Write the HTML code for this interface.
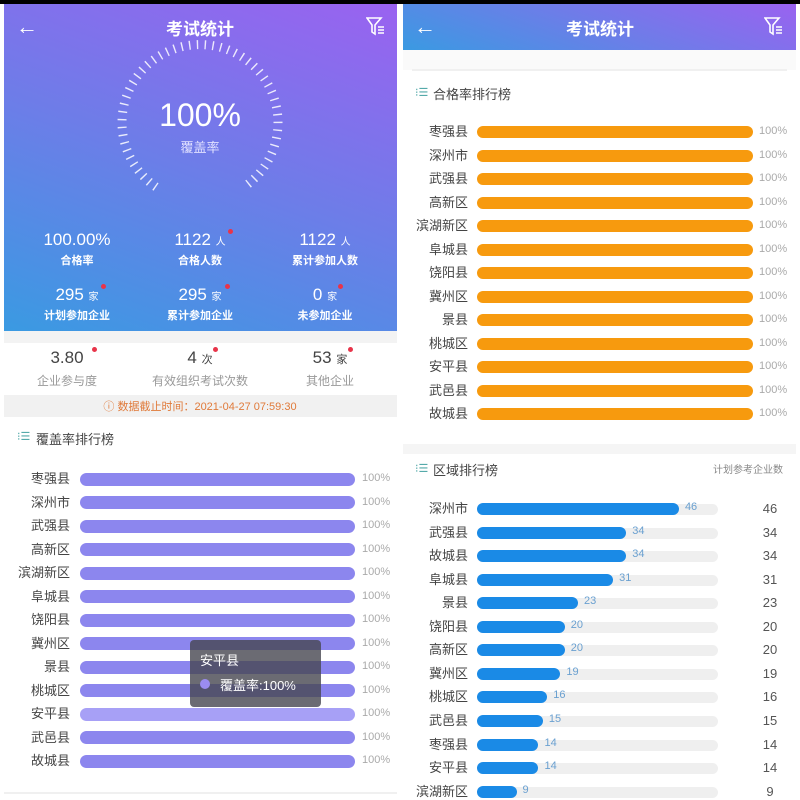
<!DOCTYPE html>
<html><head><meta charset="utf-8">
<style>
*{margin:0;padding:0;box-sizing:border-box}
body{width:800px;height:800px;position:relative;background:#fff;font-family:"Liberation Sans","Noto Sans CJK SC",sans-serif;overflow:hidden}
.a{position:absolute;white-space:nowrap}
.hdr{background:linear-gradient(20deg,#3a9ae2 0%,#6d7de8 50%,#9a62f0 100%)}
.w{color:#fff}
.lb{text-align:right;font-size:13px;color:#444;width:70px;line-height:16px}
.pc{font-size:11px;color:#aaa;line-height:14px}
.bar{position:absolute;height:13px;border-radius:7px}
.dot{position:absolute;width:5px;height:5px;border-radius:50%;background:#e8344a}
</style></head><body>
<div class="a" style="left:0;top:0;width:800px;height:4px;background:#000"></div>
<!-- LEFT -->
<div class="a hdr" style="left:4px;top:4px;width:393px;height:327px"></div>
<div class="a w" style="left:16px;top:14px;font-size:22px">←</div>
<div class="a w" style="left:0;width:400px;text-align:center;top:15px;font-size:17px;font-weight:bold">考试统计</div>
<svg class="a" style="left:366px;top:17px" width="20" height="20"><path d="M1 1 H15 L9 8 V17 L6 15 V8 Z" fill="none" stroke="#fff" stroke-width="1.6"/><path d="M12 10h6M12 13h6M12 16h6" stroke="#fff" stroke-width="1.4"/></svg>
<svg class="a" style="left:0;top:0" width="400" height="330">
<path d="M156 187 A78 78 0 1 1 244 187" fill="none" stroke="rgba(255,255,255,0.85)" stroke-width="9" stroke-dasharray="1.4 6.4"/>
</svg>
<div class="a w" style="left:0;width:400px;text-align:center;top:97px;font-size:32px">100%</div>
<div class="a" style="left:0;width:400px;text-align:center;top:137px;font-size:13px;color:#e0e0ff">覆盖率</div>
<div class="a w" style="left:17px;width:120px;text-align:center;top:230px;font-size:17px">100.00%</div>
<div class="a w" style="left:17px;width:120px;text-align:center;top:252px;font-size:11px;font-weight:bold">合格率</div>
<div class="a w" style="left:140px;width:120px;text-align:center;top:230px;font-size:17px">1122 <span style="font-size:10px">人</span></div>
<div class="a w" style="left:140px;width:120px;text-align:center;top:252px;font-size:11px;font-weight:bold">合格人数</div>
<div class="dot" style="left:228px;top:229px"></div>
<div class="a w" style="left:265px;width:120px;text-align:center;top:230px;font-size:17px">1122 <span style="font-size:10px">人</span></div>
<div class="a w" style="left:265px;width:120px;text-align:center;top:252px;font-size:11px;font-weight:bold">累计参加人数</div>
<div class="a w" style="left:17px;width:120px;text-align:center;top:285px;font-size:17px">295 <span style="font-size:10px">家</span></div>
<div class="a w" style="left:17px;width:120px;text-align:center;top:307px;font-size:11px;font-weight:bold">计划参加企业</div>
<div class="dot" style="left:101px;top:284px"></div>
<div class="a w" style="left:140px;width:120px;text-align:center;top:285px;font-size:17px">295 <span style="font-size:10px">家</span></div>
<div class="a w" style="left:140px;width:120px;text-align:center;top:307px;font-size:11px;font-weight:bold">累计参加企业</div>
<div class="dot" style="left:225px;top:284px"></div>
<div class="a w" style="left:265px;width:120px;text-align:center;top:285px;font-size:17px">0 <span style="font-size:10px">家</span></div>
<div class="a w" style="left:265px;width:120px;text-align:center;top:307px;font-size:11px;font-weight:bold">未参加企业</div>
<div class="dot" style="left:338px;top:284px"></div>
<div class="a" style="left:4px;top:331px;width:393px;height:12px;background:#f3f3f3"></div>
<div class="a" style="left:7px;width:120px;text-align:center;top:348px;font-size:17px;color:#444">3.80</div>
<div class="a" style="left:7px;width:120px;text-align:center;top:372px;font-size:12px;color:#999">企业参与度</div>
<div class="dot" style="left:92px;top:347px"></div>
<div class="a" style="left:140px;width:120px;text-align:center;top:348px;font-size:17px;color:#444">4 <span style="font-size:11px">次</span></div>
<div class="a" style="left:140px;width:120px;text-align:center;top:372px;font-size:12px;color:#999">有效组织考试次数</div>
<div class="dot" style="left:213px;top:347px"></div>
<div class="a" style="left:270px;width:120px;text-align:center;top:348px;font-size:17px;color:#444">53 <span style="font-size:11px">家</span></div>
<div class="a" style="left:270px;width:120px;text-align:center;top:372px;font-size:12px;color:#999">其他企业</div>
<div class="dot" style="left:348px;top:347px"></div>
<div class="a" style="left:4px;top:395px;width:393px;height:22px;background:#f1f1f1"></div>
<div class="a" style="left:0;width:400px;text-align:center;top:398px;font-size:11px;color:#e07a3a">ⓘ 数据截止时间：2021-04-27 07:59:30</div>
<div class="a" style="left:17px;top:430px;font-size:11px;color:#5aa">⁝☰</div>
<div class="a" style="left:36px;top:429px;font-size:13px;color:#444">覆盖率排行榜</div>
<div class="a" style="left:4px;top:792px;width:393px;height:2px;background:#f0f0f0"></div>
<div id="L"></div>
<!-- RIGHT -->
<div class="a hdr" style="left:403px;top:4px;width:393px;height:46px"></div>
<div class="a w" style="left:414px;top:14px;font-size:22px">←</div>
<div class="a w" style="left:400px;width:400px;text-align:center;top:15px;font-size:17px;font-weight:bold">考试统计</div>
<svg class="a" style="left:764px;top:17px" width="20" height="20"><path d="M1 1 H15 L9 8 V17 L6 15 V8 Z" fill="none" stroke="#fff" stroke-width="1.6"/><path d="M12 10h6M12 13h6M12 16h6" stroke="#fff" stroke-width="1.4"/></svg>
<div class="a" style="left:403px;top:50px;width:393px;height:20px;background:#fafafa"></div>
<div class="a" style="left:412px;top:69px;width:375px;height:2px;background:#f0f0f0"></div>
<div class="a" style="left:415px;top:86px;font-size:11px;color:#5aa">⁝☰</div>
<div class="a" style="left:433px;top:84px;font-size:13px;color:#444">合格率排行榜</div>
<div class="a" style="left:403px;top:444px;width:393px;height:10px;background:#f5f5f5"></div>
<div class="a" style="left:415px;top:462px;font-size:11px;color:#5aa">⁝☰</div>
<div class="a" style="left:433px;top:460px;font-size:13px;color:#444">区域排行榜</div>
<div class="a" style="left:700px;width:83px;text-align:right;top:461px;font-size:10px;color:#888">计划参考企业数</div>
<div id="R"></div>
<!-- tooltip -->
<div class="a" style="left:190px;top:640px;width:131px;height:67px;background:rgba(70,70,80,0.8);border-radius:4px"></div>
<div class="a" style="left:200px;top:650px;font-size:13px;color:#fff">安平县</div>
<div class="a" style="left:200px;top:679px;width:10px;height:10px;border-radius:50%;background:#9b8cf0"></div>
<div class="a" style="left:220px;top:675px;font-size:13px;color:#fff">覆盖率:100%</div>
<script>
var L=["枣强县","深州市","武强县","高新区","滨湖新区","阜城县","饶阳县","冀州区","景县","桃城区","安平县","武邑县","故城县"];
var h="";
L.forEach(function(n,i){var y=479+23.5*i;
h+='<div class="a lb" style="left:0;top:'+(y-8)+'px">'+n+'</div><div class="bar" style="left:80px;width:275px;top:'+(y-6.5)+'px;background:'+(i==10?'#a7a0f6':'#8c86ee')+'"></div><div class="a pc" style="left:362px;top:'+(y-8)+'px">100%</div>';
y=132+23.5*i;
h+='<div class="a lb" style="left:398px;top:'+(y-8)+'px">'+n+'</div><div class="bar" style="left:477px;width:276px;top:'+(y-6)+'px;height:12px;background:#f79a0e"></div><div class="a pc" style="left:759px;top:'+(y-8)+'px">100%</div>';});
var B=[["深州市",46],["武强县",34],["故城县",34],["阜城县",31],["景县",23],["饶阳县",20],["高新区",20],["冀州区",19],["桃城区",16],["武邑县",15],["枣强县",14],["安平县",14],["滨湖新区",9]];
B.forEach(function(b,i){var y=509+23.55*i,w=b[1]*4.39;
h+='<div class="a lb" style="left:398px;top:'+(y-8)+'px">'+b[0]+'</div><div class="bar" style="left:477px;width:241px;top:'+(y-5)+'px;height:11px;background:#efefef"></div><div class="bar" style="left:477px;width:'+w+'px;top:'+(y-6)+'px;height:12px;background:#1a8ae6"></div><div class="a pc" style="left:'+(477+w+6)+'px;top:'+(y-9)+'px;color:#6aa0d0">'+b[1]+'</div><div class="a" style="left:750px;width:40px;text-align:center;top:'+(y-8)+'px;font-size:13px;color:#555">'+b[1]+'</div>';});
document.getElementById("L").innerHTML=h;
</script>
</body></html>
